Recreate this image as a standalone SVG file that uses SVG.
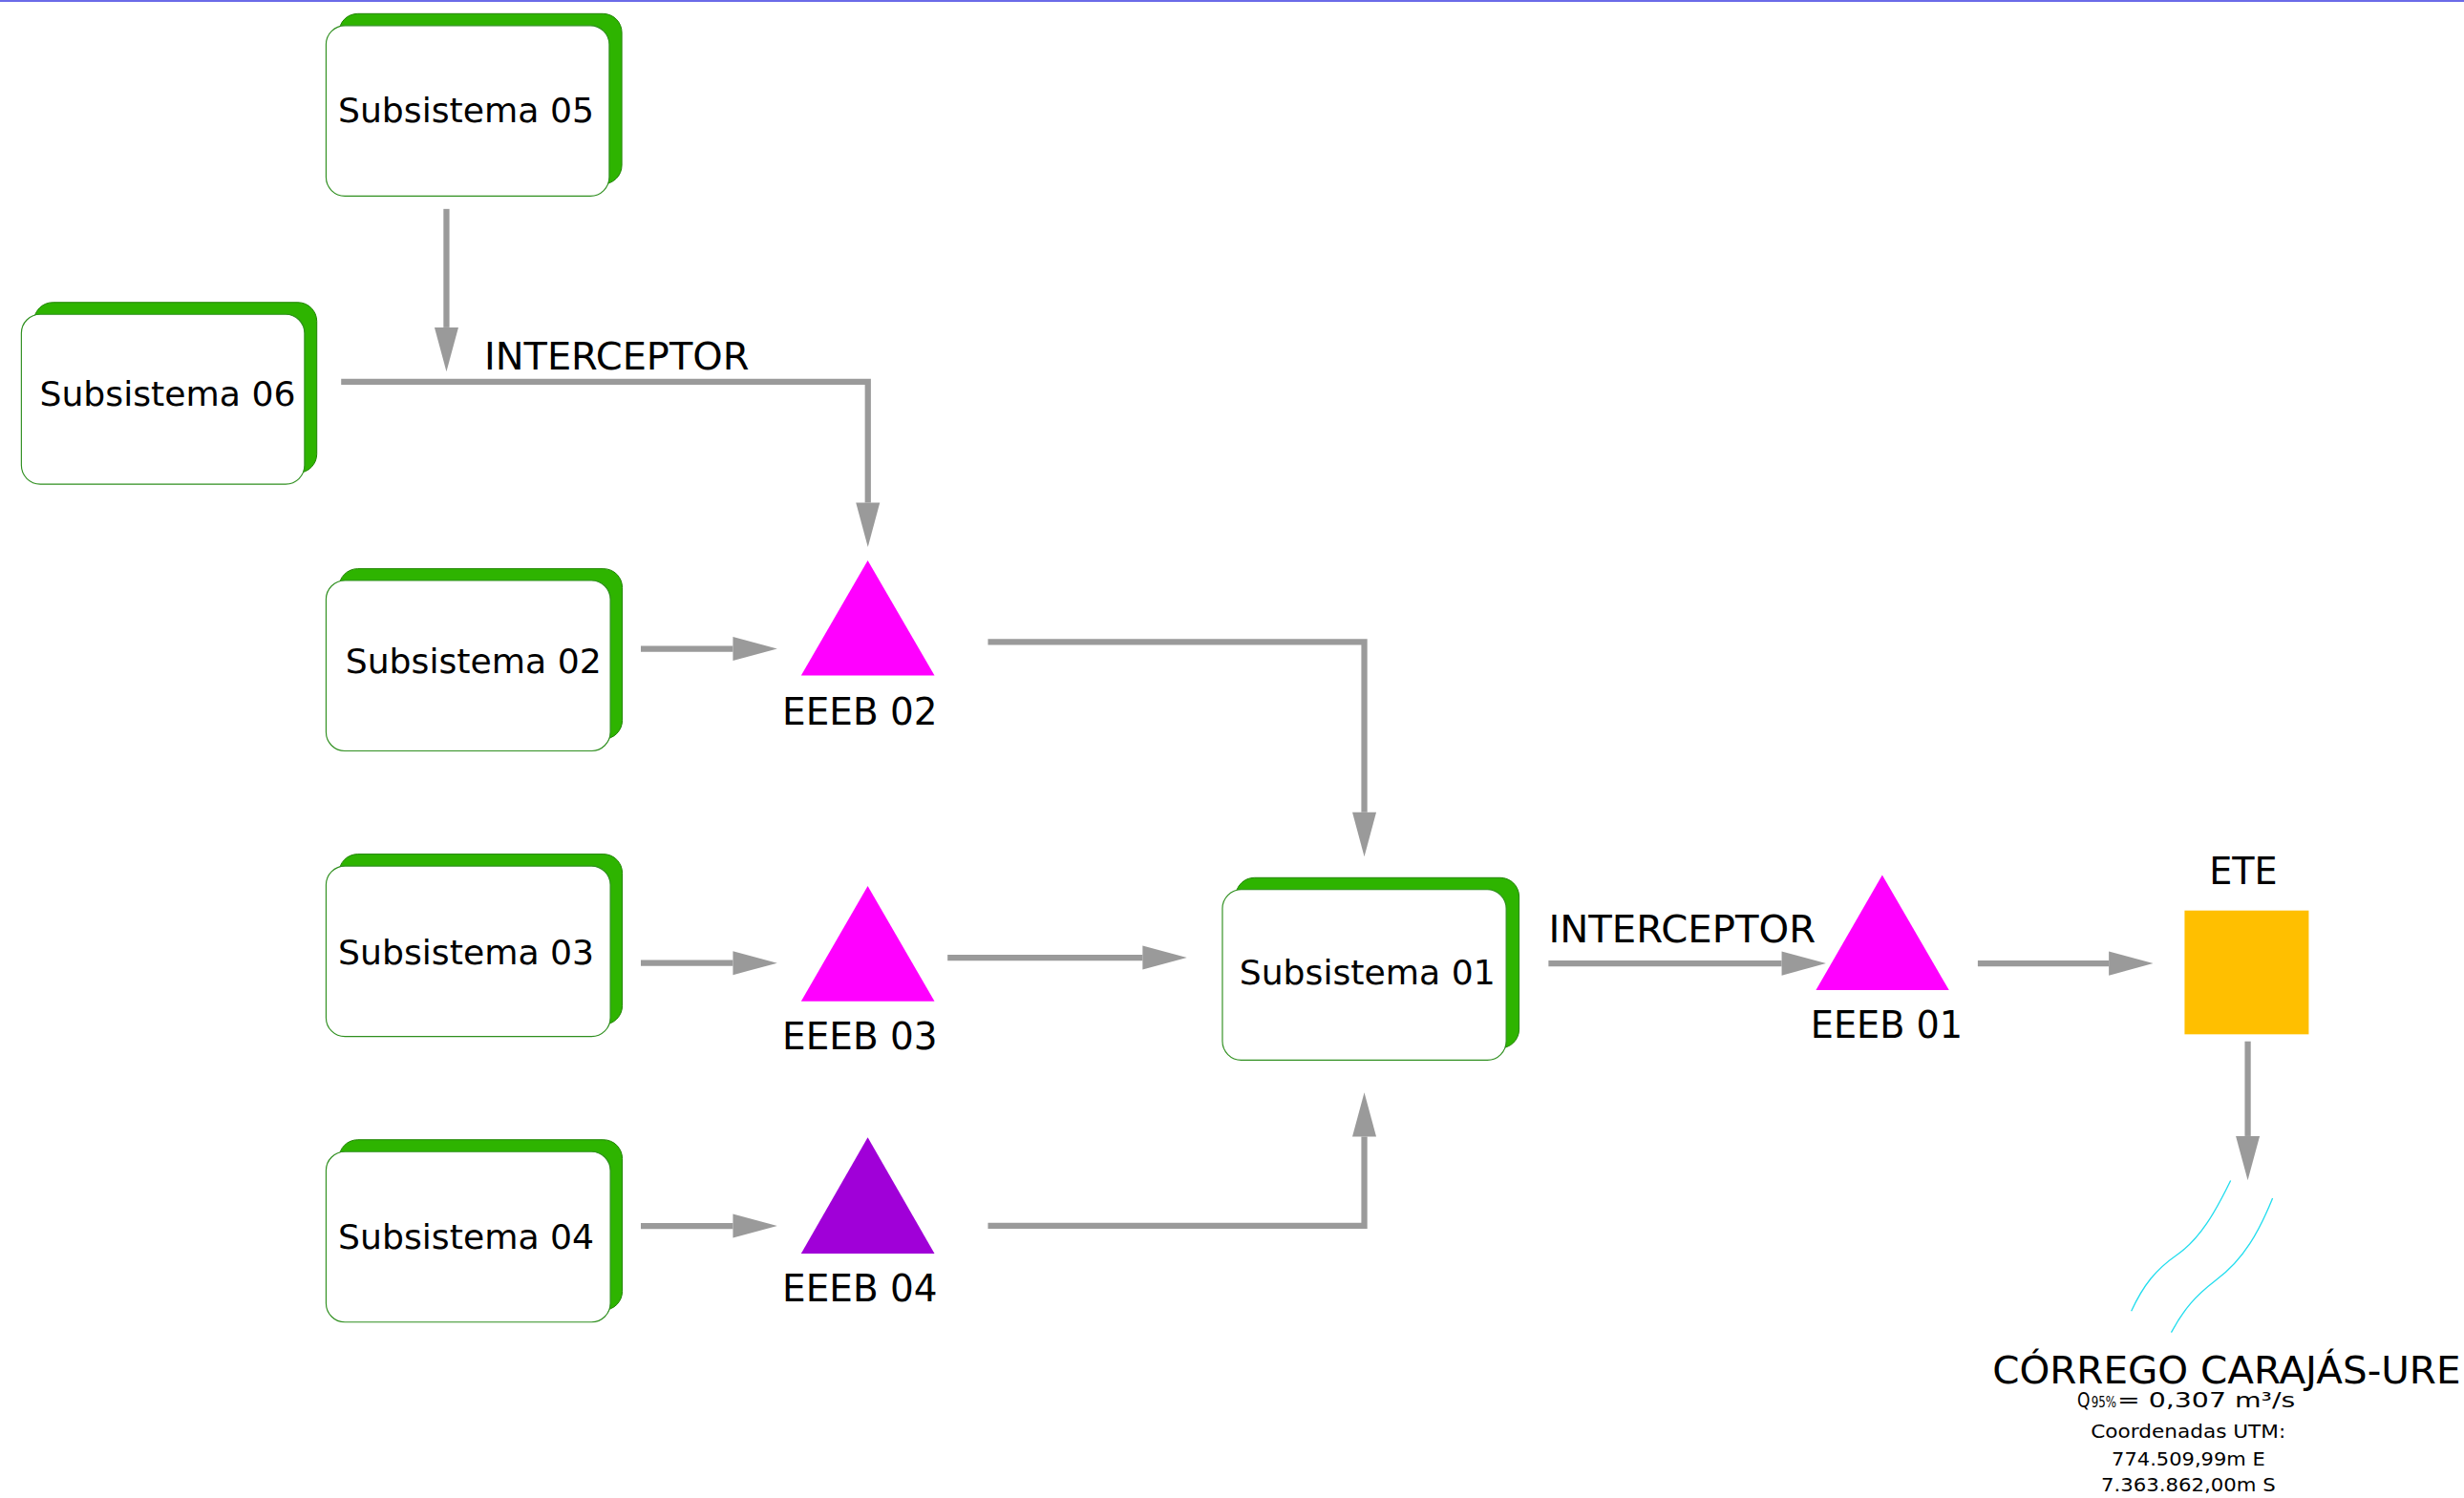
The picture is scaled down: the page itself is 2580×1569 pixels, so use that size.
<svg xmlns="http://www.w3.org/2000/svg" width="2580" height="1569" viewBox="0 0 2580 1569">
<style>
  .txt { font-family: "DejaVu Sans", Verdana, sans-serif; fill: #000; }
  .back { fill: #2EB400; stroke: #1E8200; stroke-width: 0.6; }
  .front { fill: #FFFFFF; stroke: #2F8F1F; stroke-width: 0.7; }
  .pump { fill: #FF00FF; }
  .pump4 { fill: #A000D8; }
  .conn { fill: none; stroke: #9A9A9A; stroke-width: 3.8; stroke-linejoin: miter; marker-end: url(#ah); }
  .river { fill: none; stroke: #22DDEE; stroke-width: 0.8; }
</style>
<defs>
  <marker id="ah" markerUnits="userSpaceOnUse" markerWidth="29" markerHeight="16" refX="0" refY="7.6" orient="auto" overflow="visible">
    <path d="M0,0 L28.2,7.6 L0,15.2 Z" fill="#9A9A9A"/>
  </marker>
</defs>
<rect x="0" y="0" width="2580" height="1569" fill="#FFFFFF"/>
<line x1="0" y1="1" x2="2580" y2="1" stroke="#3A3AE0" stroke-width="1.5"/>
<g transform="scale(1.6454)">
  <g id="connectors">
    <path class="conn" d="M284.1,133 V208.4"/>
    <path class="conn" d="M217.1,243.1 H552.3 V320"/>
    <path class="conn" d="M407.8,413 H466.4"/>
    <path class="conn" d="M628.7,408.6 H868.2 V517.1"/>
    <path class="conn" d="M407.8,613 H466.4"/>
    <path class="conn" d="M603,609.6 H727.1"/>
    <path class="conn" d="M407.8,780.4 H466.4"/>
    <path class="conn" d="M628.7,780.3 H868.2 V723.6"/>
    <path class="conn" d="M985.4,613.3 H1133.8"/>
    <path class="conn" d="M1258.6,613.3 H1342"/>
    <path class="conn" d="M1430.4,662.9 V723.2"/>
    <text class="txt" x="308.1" y="235.5" font-size="24" textLength="168.6" lengthAdjust="spacingAndGlyphs">INTERCEPTOR</text>
    <text class="txt" x="985.4" y="599.7" font-size="24" textLength="170" lengthAdjust="spacingAndGlyphs">INTERCEPTOR</text>
  </g>
  <g id="subsistema05">
    <rect class="back" x="215.7" y="8.7" width="180" height="108.5" rx="12"/>
    <rect class="front" x="207.5" y="16.3" width="180.2" height="108.5" rx="12"/>
    <text class="txt" font-size="22" x="215.1" y="77.7">Subsistema 05</text>
  </g>
  <g id="subsistema06">
    <rect class="back" x="21.6" y="192.5" width="180" height="108.5" rx="12"/>
    <rect class="front" x="13.6" y="200.1" width="180.2" height="108.1" rx="12"/>
    <text class="txt" font-size="22" x="25.2" y="258.3">Subsistema 06</text>
  </g>
  <g id="subsistema02">
    <rect class="back" x="215.7" y="362" width="180.3" height="108.5" rx="12"/>
    <rect class="front" x="207.5" y="369.5" width="180.9" height="108.5" rx="12"/>
    <text class="txt" font-size="22" x="219.8" y="428.4">Subsistema 02</text>
  </g>
  <g id="subsistema03">
    <rect class="back" x="215.7" y="543.7" width="180.3" height="108.5" rx="12"/>
    <rect class="front" x="207.5" y="551.3" width="180.9" height="108.5" rx="12"/>
    <text class="txt" font-size="22" x="215.2" y="613.7">Subsistema 03</text>
  </g>
  <g id="subsistema04">
    <rect class="back" x="215.7" y="725.5" width="180.3" height="108.5" rx="12"/>
    <rect class="front" x="207.5" y="733.1" width="180.9" height="108.5" rx="12"/>
    <text class="txt" font-size="22" x="215.2" y="795.2">Subsistema 04</text>
  </g>
  <g id="subsistema01">
    <rect class="back" x="786.3" y="558.7" width="180.4" height="108.5" rx="12"/>
    <rect class="front" x="777.9" y="566.3" width="180.6" height="108.5" rx="12"/>
    <text class="txt" font-size="22" x="788.7" y="626.5">Subsistema 01</text>
  </g>
  <g id="eeeb02">
    <polygon class="pump" points="552.2,356.8 509.8,430 594.7,430"/>
    <text class="txt" font-size="23.5" x="497.8" y="461" textLength="98.8" lengthAdjust="spacingAndGlyphs">EEEB 02</text>
  </g>
  <g id="eeeb03">
    <polygon class="pump" points="552.2,564 509.8,637.4 594.7,637.4"/>
    <text class="txt" font-size="23.5" x="497.8" y="667.9" textLength="98.8" lengthAdjust="spacingAndGlyphs">EEEB 03</text>
  </g>
  <g id="eeeb04">
    <polygon class="pump4" points="552.2,724 509.8,798 594.7,798"/>
    <text class="txt" font-size="23.5" x="497.8" y="828.2" textLength="98.8" lengthAdjust="spacingAndGlyphs">EEEB 04</text>
  </g>
  <g id="eeeb01">
    <polygon class="pump" points="1197.8,557 1155.6,630.3 1240.3,630.3"/>
    <text class="txt" font-size="23.5" x="1152.2" y="660.6" textLength="96.8" lengthAdjust="spacingAndGlyphs">EEEB 01</text>
  </g>
  <g id="ete">
    <rect x="1390.2" y="579.6" width="79" height="78.8" fill="#FFBF00"/>
    <text class="txt" font-size="23.5" x="1405.9" y="562.6" textLength="43.4" lengthAdjust="spacingAndGlyphs">ETE</text>
  </g>
  <g id="corrego">
    <path class="river" d="M1419.5,751.5 C1410,771 1400,789 1385,799 C1372,808 1364,818 1356.3,834.6"/>
    <path class="river" d="M1446.2,762.7 C1438,783 1428,802 1410,815 C1397,825 1390,833 1381.7,848.2"/>
    <text class="txt" x="1267.9" y="880.5" font-size="24" textLength="298" lengthAdjust="spacingAndGlyphs">CÓRREGO CARAJÁS-URE</text>
    <text class="txt" y="895.8" font-size="13"><tspan x="1321.9" textLength="8.2" lengthAdjust="spacingAndGlyphs">Q</tspan><tspan x="1330.8" font-size="9.5" textLength="16" lengthAdjust="spacingAndGlyphs">95%</tspan><tspan x="1347.4" textLength="113.2" lengthAdjust="spacingAndGlyphs">= 0,307 m³/s</tspan></text>
    <text class="txt" font-size="12.3" x="1330.5" y="915.3" textLength="124" lengthAdjust="spacingAndGlyphs">Coordenadas UTM:</text>
    <text class="txt" font-size="12.3" x="1343.8" y="932.6" textLength="97.6" lengthAdjust="spacingAndGlyphs">774.509,99m E</text>
    <text class="txt" font-size="12.3" x="1337" y="949.6" textLength="111.1" lengthAdjust="spacingAndGlyphs">7.363.862,00m S</text>
  </g>
</g>
</svg>
